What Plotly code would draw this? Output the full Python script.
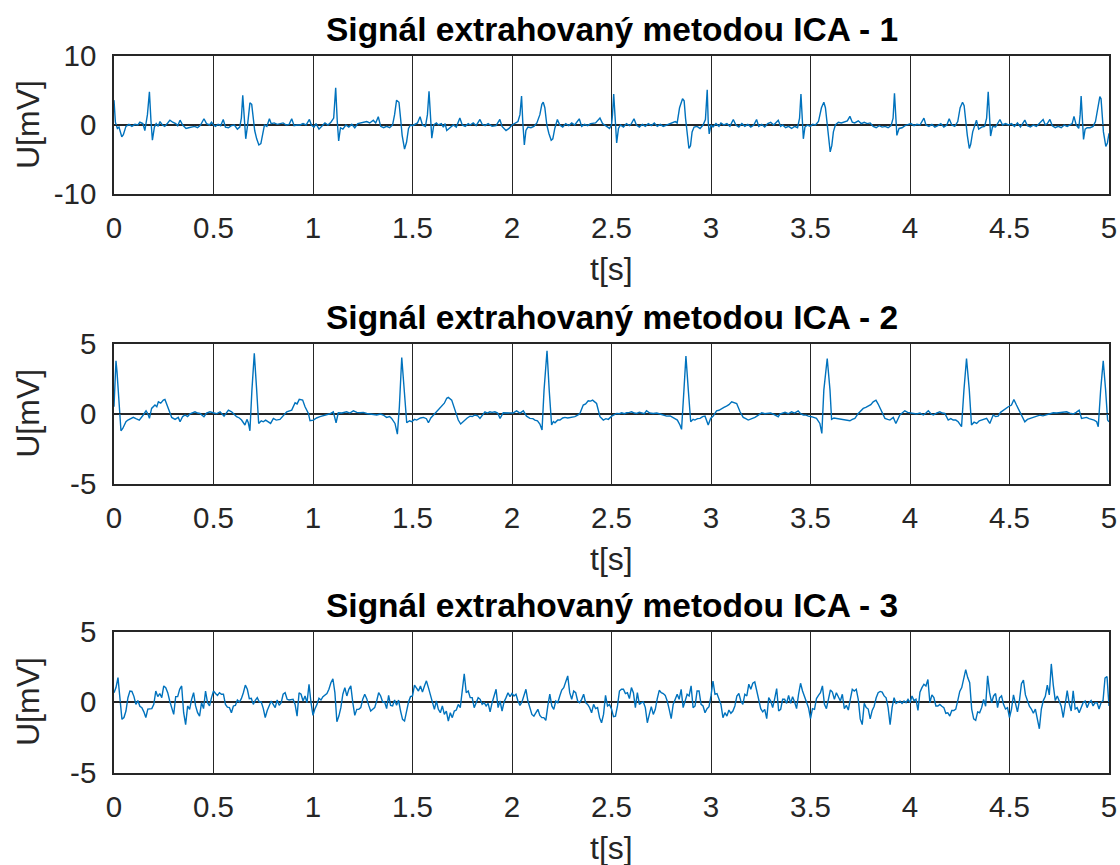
import plotly.graph_objects as go

# ---------------- data ----------------
# Panel 1: time [s] and voltage [mV]
t1 = [0.000, 0.007, 0.017, 0.025, 0.039, 0.047, 0.060, 0.075, 0.090, 0.105,
      0.120, 0.130, 0.145, 0.155, 0.168, 0.178, 0.186, 0.193, 0.203, 0.212,
      0.222, 0.231, 0.243, 0.255, 0.270, 0.281, 0.295, 0.310, 0.320, 0.332,
      0.345, 0.362, 0.375, 0.390, 0.405, 0.420, 0.435, 0.452, 0.465, 0.480,
      0.490, 0.500, 0.510, 0.523, 0.536, 0.549, 0.560, 0.575, 0.590, 0.605,
      0.620, 0.632, 0.640, 0.647, 0.655, 0.662, 0.670, 0.677, 0.683, 0.692,
      0.700, 0.707, 0.717, 0.728, 0.738, 0.748, 0.756, 0.768, 0.774, 0.781,
      0.790, 0.805, 0.820, 0.835, 0.850, 0.865, 0.880, 0.893, 0.905, 0.920,
      0.935, 0.950, 0.965, 0.982, 0.992, 1.005, 1.015, 1.030, 1.045, 1.060,
      1.075, 1.090, 1.104, 1.114, 1.122, 1.129, 1.138, 1.150, 1.165, 1.180,
      1.195, 1.210, 1.225, 1.240, 1.255, 1.270, 1.285, 1.303, 1.315, 1.328,
      1.340, 1.355, 1.370, 1.385, 1.400, 1.410, 1.420, 1.432, 1.440, 1.448,
      1.460, 1.470, 1.480, 1.490, 1.500, 1.515, 1.525, 1.538, 1.550, 1.565,
      1.575, 1.583, 1.590, 1.597, 1.607, 1.620, 1.630, 1.645, 1.655, 1.664,
      1.672, 1.690, 1.705, 1.720, 1.738, 1.750, 1.765, 1.780, 1.790, 1.805,
      1.820, 1.839, 1.850, 1.865, 1.880, 1.900, 1.920, 1.939, 1.950, 1.970,
      1.985, 2.000, 2.015, 2.030, 2.040, 2.048, 2.054, 2.062, 2.070, 2.080,
      2.095, 2.110, 2.125, 2.140, 2.150, 2.157, 2.165, 2.175, 2.185, 2.197,
      2.205, 2.215, 2.228, 2.240, 2.255, 2.270, 2.285, 2.300, 2.315, 2.338,
      2.350, 2.365, 2.380, 2.395, 2.420, 2.442, 2.455, 2.475, 2.490, 2.500,
      2.505, 2.511, 2.518, 2.526, 2.535, 2.545, 2.560, 2.575, 2.590, 2.600,
      2.613, 2.625, 2.640, 2.655, 2.670, 2.685, 2.700, 2.715, 2.730, 2.745,
      2.760, 2.780, 2.800, 2.820, 2.830, 2.842, 2.857, 2.865, 2.872, 2.880,
      2.889, 2.897, 2.905, 2.915, 2.930, 2.945, 2.960, 2.972, 2.981, 2.986,
      2.991, 3.000, 3.010, 3.025, 3.040, 3.050, 3.065, 3.080, 3.095, 3.112,
      3.125, 3.140, 3.155, 3.170, 3.185, 3.200, 3.215, 3.229, 3.240, 3.255,
      3.270, 3.285, 3.300, 3.315, 3.338, 3.350, 3.360, 3.375, 3.390, 3.405,
      3.420, 3.435, 3.445, 3.452, 3.458, 3.464, 3.472, 3.485, 3.500, 3.510,
      3.525, 3.540, 3.555, 3.567, 3.575, 3.583, 3.590, 3.599, 3.607, 3.615,
      3.625, 3.640, 3.655, 3.670, 3.685, 3.698, 3.710, 3.722, 3.740, 3.755,
      3.770, 3.785, 3.800, 3.815, 3.830, 3.845, 3.860, 3.875, 3.890, 3.905,
      3.915, 3.922, 3.928, 3.934, 3.945, 3.960, 3.975, 3.990, 4.005, 4.020,
      4.035, 4.050, 4.070, 4.080, 4.095, 4.110, 4.125, 4.140, 4.155, 4.170,
      4.185, 4.197, 4.210, 4.225, 4.240, 4.252, 4.264, 4.272, 4.280, 4.288,
      4.298, 4.305, 4.315, 4.334, 4.345, 4.360, 4.375, 4.385, 4.393, 4.399,
      4.405, 4.415, 4.430, 4.452, 4.465, 4.480, 4.495, 4.510, 4.525, 4.540,
      4.555, 4.577, 4.590, 4.605, 4.620, 4.635, 4.650, 4.669, 4.680, 4.690,
      4.703, 4.715, 4.730, 4.745, 4.760, 4.775, 4.790, 4.805, 4.815, 4.824,
      4.835, 4.848, 4.855, 4.860, 4.866, 4.872, 4.880, 4.890, 4.905, 4.920,
      4.932, 4.943, 4.954, 4.960, 4.966, 4.972, 4.984, 4.992, 5.000]
u1 = [3.6, 0.4, -0.5, -0.3, -1.7, -1.4, -0.2, 0.1, -0.2, 0.1,
      0.0, 0.4, 0.2, -0.8, 1.5, 4.8, 0.5, -2.2, -0.3, 0.2,
      -0.2, 0.5, 0.0, -0.2, 0.3, 0.7, 0.4, 0.2, -0.1, 0.7,
      0.0, -0.5, -0.4, -0.3, -0.2, -0.4, 0.0, 0.9, 0.2, 0.0,
      0.4, 0.0, -0.2, 0.1, -0.1, 0.8, -0.3, -0.4, -0.1, 0.0,
      -0.6, -0.3, 1.0, 4.3, 0.5, -2.0, -0.3, 2.0, 3.2, 3.0,
      1.0, -0.8, -2.0, -2.9, -2.7, -0.8, 0.0, -0.2, 0.3, 0.9,
      0.2, 0.3, 0.1, 0.2, 0.3, 0.0, 0.1, 0.9, -0.1, 0.0,
      0.0, 0.2, 0.0, 0.8, 0.0, -0.3, 0.2, -0.6, -0.2, 0.3,
      0.0, 0.4, 1.0, 5.4, 0.5, -2.3, -0.4, -0.6, 0.0, -0.3,
      0.1, -0.4, 0.2, 0.3, 0.4, 0.5, 0.3, 0.7, 0.3, 1.2,
      -0.2, -0.4, -0.2, -0.4, 0.0, 1.5, 3.6, 3.3, 1.0, -1.5,
      -3.5, -2.5, -0.5, 0.0, -0.1, 0.1, 0.3, 1.2, 0.0, -0.2,
      1.5, 4.9, 0.5, -1.9, 0.0, 0.3, 0.0, 0.2, -0.3, 0.2,
      -0.8, -0.4, 0.0, -0.3, 1.0, 0.0, -0.2, 0.2, 0.0, 0.3,
      -0.1, 0.8, 0.1, -0.1, 0.2, -0.2, -0.1, 0.8, -0.2, -0.8,
      -0.5, 0.0, 0.2, 0.5, 1.5, 4.2, 0.5, -2.9, -0.8, -0.3,
      -0.4, -0.2, 0.3, 1.5, 3.0, 3.3, 2.5, 0.0, -1.2, -2.2,
      -2.0, -0.5, 0.8, 0.0, -0.3, 0.2, -0.1, 0.3, 0.0, 0.9,
      -0.2, 0.1, -0.1, 0.2, 0.3, 1.0, 0.2, -0.2, -0.5, 0.0,
      1.5, 4.5, 0.5, -2.6, -0.5, 0.0, -0.3, 0.2, -0.1, 0.2,
      0.9, 0.0, -0.3, 0.1, -0.2, 0.2, -0.1, 0.3, -0.2, 0.1,
      -0.2, 0.0, 0.2, 0.5, 0.3, 2.5, 3.8, 3.5, 1.0, -1.0,
      -3.4, -3.0, -1.0, -0.3, -0.2, -0.5, 0.0, 0.8, 5.1, 0.5,
      -1.3, 0.0, -0.3, 0.2, -0.2, 0.3, 0.0, 0.2, -0.2, 0.8,
      0.0, -0.3, 0.2, -0.2, 0.1, -0.3, 0.0, 0.8, -0.2, 0.1,
      -0.3, 0.2, 0.4, 0.0, 0.7, -0.2, 0.0, -0.4, -0.2, -0.5,
      -0.2, -0.4, 1.0, 4.5, 0.5, -2.0, -0.3, 0.0, -0.2, 0.1,
      0.0, 0.5, 2.5, 3.3, 2.5, 0.0, -2.0, -3.9, -3.0, -1.0,
      0.0, 0.4, 0.3, 0.5, 0.6, 1.25, 0.4, 0.3, 0.6, 0.2,
      0.4, 0.2, 0.3, -0.2, -0.4, -0.1, -0.3, -0.2, -0.4, -0.1,
      1.0, 4.6, 0.5, -1.5, -0.5, -0.4, -0.1, 0.0, 0.2, -0.1,
      0.1, 0.0, 1.0, 0.0, -0.2, 0.1, -0.3, -0.1, 0.2, -0.3,
      0.0, 0.9, 0.0, -0.2, 0.5, 2.5, 3.3, 2.8, 0.5, -1.5,
      -3.4, -2.8, -1.0, 0.7, -0.6, -0.3, -0.2, 1.0, 4.8, 0.5,
      -1.6, -0.2, -0.3, 0.8, 0.0, 0.2, 0.0, 0.2, -0.2, 0.3,
      -0.3, 0.7, -0.1, -0.3, 0.0, -0.2, 0.3, 0.8, 0.0, 0.2,
      0.8, -0.1, -0.4, -0.2, -0.4, 0.0, -0.2, 0.0, 0.2, 1.25,
      0.0, -0.5, 1.5, 4.2, 0.5, -2.1, -0.6, -0.4, -0.4, -0.2,
      0.5, 2.5, 4.1, 3.8, 1.0, -1.0, -3.1, -2.6, -1.2]

# Panel 2: time [s] and voltage [mV]
t2 = [0.000, 0.010, 0.015, 0.027, 0.035, 0.044, 0.060, 0.070, 0.080, 0.090,
      0.097, 0.110, 0.127, 0.147, 0.161, 0.170, 0.178, 0.189, 0.206, 0.215,
      0.223, 0.235, 0.248, 0.256, 0.273, 0.290, 0.307, 0.323, 0.332, 0.345,
      0.357, 0.370, 0.382, 0.395, 0.407, 0.420, 0.432, 0.452, 0.465, 0.482,
      0.499, 0.515, 0.533, 0.553, 0.575, 0.591, 0.605, 0.616, 0.630, 0.641,
      0.658, 0.668, 0.675, 0.683, 0.693, 0.705, 0.717, 0.727, 0.740, 0.750,
      0.762, 0.775, 0.787, 0.801, 0.815, 0.834, 0.850, 0.868, 0.893, 0.910,
      0.920, 0.931, 0.948, 0.960, 0.977, 0.985, 1.002, 1.018, 1.035, 1.050,
      1.069, 1.085, 1.102, 1.116, 1.127, 1.145, 1.169, 1.185, 1.203, 1.220,
      1.236, 1.253, 1.270, 1.295, 1.320, 1.340, 1.353, 1.370, 1.385, 1.395,
      1.412, 1.424, 1.434, 1.446, 1.457, 1.471, 1.485, 1.496, 1.510, 1.521,
      1.540, 1.555, 1.570, 1.580, 1.592, 1.605, 1.618, 1.630, 1.645, 1.660,
      1.672, 1.680, 1.697, 1.713, 1.730, 1.742, 1.755, 1.764, 1.775, 1.789,
      1.800, 1.814, 1.828, 1.839, 1.850, 1.864, 1.876, 1.889, 1.900, 1.914,
      1.928, 1.940, 1.956, 1.975, 1.990, 2.005, 2.023, 2.040, 2.057, 2.073,
      2.090, 2.105, 2.115, 2.128, 2.140, 2.151, 2.161, 2.176, 2.187, 2.199,
      2.208, 2.216, 2.230, 2.241, 2.255, 2.266, 2.280, 2.291, 2.305, 2.316,
      2.330, 2.341, 2.358, 2.370, 2.383, 2.395, 2.405, 2.425, 2.442, 2.459,
      2.472, 2.484, 2.501, 2.515, 2.526, 2.540, 2.551, 2.565, 2.576, 2.590,
      2.601, 2.615, 2.626, 2.640, 2.651, 2.665, 2.676, 2.692, 2.710, 2.727,
      2.744, 2.760, 2.777, 2.795, 2.811, 2.831, 2.844, 2.852, 2.864, 2.874,
      2.886, 2.898, 2.910, 2.919, 2.932, 2.945, 2.958, 2.970, 2.986, 2.998,
      3.011, 3.028, 3.040, 3.053, 3.065, 3.078, 3.090, 3.104, 3.115, 3.129,
      3.146, 3.162, 3.175, 3.187, 3.205, 3.221, 3.238, 3.255, 3.270, 3.288,
      3.300, 3.313, 3.321, 3.338, 3.346, 3.360, 3.372, 3.388, 3.405, 3.420,
      3.438, 3.450, 3.464, 3.478, 3.489, 3.505, 3.518, 3.530, 3.547, 3.557,
      3.567, 3.584, 3.598, 3.606, 3.618, 3.631, 3.648, 3.665, 3.680, 3.698,
      3.710, 3.723, 3.740, 3.752, 3.765, 3.778, 3.790, 3.803, 3.815, 3.829,
      3.840, 3.857, 3.874, 3.888, 3.899, 3.916, 3.929, 3.949, 3.962, 3.974,
      3.988, 3.999, 4.015, 4.033, 4.050, 4.067, 4.080, 4.092, 4.105, 4.117,
      4.133, 4.150, 4.162, 4.175, 4.192, 4.205, 4.217, 4.230, 4.242, 4.259,
      4.271, 4.284, 4.298, 4.309, 4.322, 4.335, 4.348, 4.360, 4.372, 4.385,
      4.401, 4.418, 4.430, 4.443, 4.455, 4.469, 4.482, 4.494, 4.510, 4.522,
      4.535, 4.552, 4.565, 4.577, 4.590, 4.603, 4.620, 4.636, 4.652, 4.668,
      4.686, 4.703, 4.720, 4.737, 4.753, 4.770, 4.787, 4.803, 4.820, 4.835,
      4.850, 4.862, 4.875, 4.887, 4.900, 4.912, 4.925, 4.938, 4.946, 4.958,
      4.971, 4.983, 4.993, 5.000]
u2 = [0.5, 3.77, 3.0, 0.0, -1.21, -1.05, -0.57, -0.45, -0.4, -0.3,
      -0.26, -0.35, -0.45, -0.09, 0.21, 0.0, -0.33, 0.38, 0.62, 0.5,
      0.85, 0.75, 0.97, 1.02, 0.38, -0.26, -0.4, -0.26, -0.57, -0.2,
      -0.09, -0.2, 0.0, 0.1, 0.14, 0.05, 0.02, -0.21, 0.05, 0.14,
      0.07, 0.0, 0.14, -0.17, 0.26, 0.14, -0.05, -0.21, -0.3, -0.45,
      -0.8, -0.4, -0.64, -1.21, 1.68, 4.3, 1.68, -0.69, -0.5, -0.57,
      -0.45, -0.57, -0.69, -0.33, -0.45, -0.4, -0.15, 0.14, 0.26, 0.78,
      0.7, 1.02, 0.97, 0.5, 0.02, -0.5, -0.45, -0.3, -0.21, -0.15,
      -0.09, 0.0, 0.14, -0.64, 0.07, 0.05, 0.14, 0.05, 0.21, 0.1,
      0.07, 0.1, 0.02, -0.05, -0.09, -0.02, -0.09, -0.26, -0.2, -0.33,
      -0.69, -1.45, 0.5, 4.0, 1.68, -0.64, -0.5, -0.57, -0.4, -0.45,
      -0.3, -0.26, -0.35, -0.64, -0.3, -0.09, 0.1, 0.26, 0.5, 0.75,
      1.1, 1.16, 0.97, 0.26, -0.45, -0.73, -0.55, -0.45, -0.3, -0.17,
      -0.2, -0.09, -0.15, -0.33, -0.1, 0.14, 0.05, 0.14, 0.1, 0.14,
      0.05, -0.33, 0.07, 0.05, 0.07, 0.05, 0.21, 0.05, 0.21, -0.17,
      -0.33, -0.35, -0.45, -0.5, -0.73, -1.16, 1.68, 4.48, 1.68, -0.8,
      -0.55, -0.64, -0.45, -0.45, -0.3, -0.26, -0.3, -0.26, -0.25, -0.21,
      -0.1, 0.02, 0.62, 0.7, 0.92, 0.9, 0.97, 0.73, -0.21, -0.45,
      -0.35, -0.4, -0.17, -0.05, 0.02, 0.0, 0.07, 0.0, 0.07, 0.1,
      0.14, 0.05, 0.02, 0.1, 0.07, 0.0, 0.21, 0.05, 0.02, 0.05,
      -0.02, -0.1, -0.17, -0.15, -0.26, -0.45, -0.8, -1.11, 1.68, 4.1,
      1.68, -0.57, -0.4, -0.45, -0.35, -0.33, -0.2, -0.17, -0.8, -0.33,
      -0.17, 0.21, 0.25, 0.38, 0.45, 0.55, 0.65, 0.85, 0.8, 0.73,
      0.14, -0.26, -0.35, -0.45, -0.35, -0.26, -0.1, 0.07, 0.0, 0.02,
      0.05, -0.02, -0.09, -0.21, -0.02, 0.05, 0.1, 0.0, 0.14, 0.05,
      0.21, 0.0, -0.09, -0.1, -0.17, -0.21, -0.25, -0.33, -0.69, -1.4,
      1.68, 3.93, 1.68, -0.4, -0.3, -0.33, -0.35, -0.4, -0.45, -0.5,
      -0.4, -0.33, 0.02, 0.2, 0.38, 0.45, 0.55, 0.65, 0.85, 0.97,
      0.69, 0.14, -0.33, -0.4, -0.45, -0.26, -0.69, -0.09, 0.1, 0.21,
      0.1, 0.07, 0.0, -0.02, 0.05, -0.09, 0.05, 0.21, 0.0, -0.09,
      0.05, 0.14, 0.05, 0.02, -0.45, -0.35, -0.45, -0.45, -0.57, -0.92,
      1.68, 3.93, 1.68, -0.8, -0.6, -0.69, -0.5, -0.45, -0.4, -0.33,
      -0.69, -0.09, -0.2, -0.17, 0.1, 0.26, 0.35, 0.5, 0.62, 1.02,
      0.62, 0.14, -0.2, -0.57, -0.4, -0.33, -0.25, -0.17, -0.1, -0.15,
      -0.09, 0.0, 0.07, 0.05, 0.07, 0.1, 0.14, 0.05, -0.02, 0.1,
      0.26, -0.33, -0.3, -0.26, -0.35, -0.4, -0.45, -0.57, -0.92, 1.68,
      3.77, 1.68, -0.45, -0.57]

# Panel 3: voltage [mV] sampled every 0.01 s
dt3 = 0.01
u3 = [0.66, 1.02, 1.73, 0.1, -1.23, -1.1, -0.64, 0.3, 0.78, 0.75,
      0.4, -0.17, 0.1, -0.3, -0.4, -0.7, -1.1, -0.5, -0.5, -0.47,
      -0.17, 0.78, 0.38, 0.6, 0.31, 1.14, 1.02, 0.66, 0.07, -0.4,
      -0.88, 0.38, 0.38, 0.9, 1.14, -0.76, -1.6, -0.28, -0.52, 0.19,
      0.66, -0.28, -0.76, -1.0, -0.05, -0.47, 0.78, -0.05, -0.28, 0.31,
      0.78, 0.6, 0.47, 0.66, 0.55, 0.55, -0.17, -0.36, -0.4, -0.76,
      -0.28, -0.24, 0.14, 0.0, 0.24, 0.66, 1.2, 0.9, 0.24, 0.26,
      -0.17, 0.12, 0.31, 0.0, 0.0, -0.45, -1.1, -0.6, -0.24, 0.07,
      -0.17, -0.4, 0.14, -0.24, -0.05, 0.55, 0.66, 0.19, 0.14, 0.19,
      0.19, -0.17, -1.0, 0.66, 0.55, 0.07, 0.43, -0.05, 1.26, -0.05,
      -0.95, -0.47, -0.17, 0.26, 0.14, 0.38, 0.47, 0.6, 0.9, 1.37,
      1.65, 0.66, -1.4, -1.0, -0.4, 0.55, 1.02, 0.43, 0.9, 1.14,
      -0.05, -0.95, -0.52, -0.52, -0.4, 0.2, 0.55, 0.24, -0.24, -0.64,
      -0.52, -0.4, 0.07, 0.66, 0.43, 0.0, 0.0, -0.47, 0.47, -0.24,
      -0.28, 0.14, -0.24, 0.14, -0.64, -1.23, -1.35, -0.52, 0.0, 0.38,
      0.43, 1.2, 1.02, 0.78, 1.14, 0.7, 1.14, 1.5, 1.02, 0.47,
      0.12, -0.52, 0.07, -0.52, -0.76, -0.28, -0.88, -0.64, -1.35, -0.76,
      -1.11, -0.64, -0.57, -0.17, -0.4, 0.66, 2.0, 0.66, 0.78, 0.31,
      0.31, -0.4, -0.05, 0.31, 0.19, -0.17, -0.05, -0.28, -0.1, -0.7,
      -0.05, 0.38, 0.9, -0.4, 0.07, -0.64, 0.0, 0.31, 0.66, 0.38,
      0.6, 0.43, 0.55, 0.07, -0.24, 0.0, 0.38, 0.9, 0.07, -0.4,
      -0.88, -1.0, -0.76, -0.52, -0.95, -1.11, -1.11, -1.3, -0.28, 0.55,
      -0.28, -0.52, 0.07, -0.05, 0.43, 0.85, 1.02, 1.37, 1.85, 0.66,
      0.19, 0.78, 0.66, 0.07, -0.05, 0.19, 0.55, -0.05, -0.17, -0.4,
      -0.76, -0.17, -0.47, -0.4, -1.11, -1.47, -0.88, 0.47, -0.28, -0.17,
      -0.5, -1.04, -1.0, -0.28, 0.78, 0.9, 0.9, 0.6, 0.66, 0.24,
      1.02, 0.66, -0.4, 0.66, -0.17, -0.05, 0.0, -0.4, -1.47, -0.88,
      -0.33, -0.88, -0.52, 0.24, 0.83, 0.66, 0.6, 0.47, 0.07, -0.52,
      -1.18, -0.17, 0.19, 0.55, 0.19, 0.9, -0.4, 0.0, 0.55, 0.43,
      1.14, -0.4, -0.28, 0.78, 0.78, -0.17, -0.28, -0.76, -0.47, -0.33,
      0.43, 1.49, 0.55, 0.6, 0.24, -0.17, -1.11, -0.76, -1.0, -0.57,
      -0.8, -0.64, -0.28, 0.43, 0.6, 0.07, -0.17, 0.55, 0.43, 1.26,
      0.9, 1.33, 1.42, 0.78, 0.07, -0.47, -0.7, -0.52, -1.18, 0.31,
      0.07, -0.4, 0.24, 0.95, -0.64, -0.52, 0.19, 0.19, -0.1, 0.47,
      -0.1, 0.38, 0.0, -0.47, 0.55, 1.33, 0.78, 0.38, -0.1, -0.4,
      -1.18, -0.47, -0.52, 0.24, 0.47, 0.66, 1.14, -0.17, -0.47, 0.31,
      0.85, 0.7, 0.19, 0.66, 0.38, 0.07, 0.55, -0.47, -0.24, -0.57,
      0.19, 0.9, 0.78, 0.9, 0.19, -1.2, -1.6, -0.1, -0.4, -0.5,
      -1.2, -0.6, -0.3, 0.3, 0.66, 0.75, 0.7, 0.43, 0.3, -0.4,
      -1.6, -0.4, 0.31, -0.1, 0.0, 0.07, -0.1, 0.07, -0.05, 0.19,
      -0.05, 0.43, 0.1, 0.2, -0.6, 0.7, 1.02, 1.26, 1.14, 1.6,
      -0.05, 0.5, 0.31, -0.28, -0.28, -0.17, -0.3, -0.4, -0.8, -0.76,
      -1.0, -0.6, -0.6, -0.5, 0.1, 0.75, 1.02, 1.61, 2.3, 1.73,
      1.37, -0.5, -1.2, -1.3, -0.7, -0.76, -0.4, 0.19, -0.3, 1.85,
      0.66, -0.05, 0.43, 0.6, -0.4, 0.3, 0.43, -0.17, -0.5, -0.4,
      -1.1, -0.5, 0.5, -0.1, -0.7, 0.1, 1.3, 1.55, 0.5, 0.1,
      -0.3, -0.5, -0.8, -0.5, -1.3, -1.9, -0.5, 0.1, 0.4, 1.2,
      0.5, 2.7, 1.2, 0.1, 0.43, 0.07, -0.3, -1.1, -0.1, 0.8,
      -0.1, -0.64, 0.8, -0.5, -0.4, -0.76, -0.4, -0.05, 0.07, -0.4,
      -0.05, 0.1, -0.28, -0.05, -0.05, -0.5, -0.05, 0.1, 1.7, 1.8,
      -0.28]
t3 = [round(i * dt3, 2) for i in range(len(u3))]

titles = ["Signál extrahovaný metodou ICA - 1",
          "Signál extrahovaný metodou ICA - 2",
          "Signál extrahovaný metodou ICA - 3"]
x_label = "t[s]"
y_label = "U[mV]"
x_ticks = [0, 0.5, 1, 1.5, 2, 2.5, 3, 3.5, 4, 4.5, 5]
x_ticktext = ["0", "0.5", "1", "1.5", "2", "2.5", "3", "3.5", "4", "4.5", "5"]
y_ranges = [[-10, 10], [-5, 5], [-5, 5]]
y_ticks = [[-10, 0, 10], [-5, 0, 5], [-5, 0, 5]]
y_ticktext = [["-10", "0", "10"], ["-5", "0", "5"], ["-5", "0", "5"]]

# ---------------- layout geometry (page pixels; body margin removed) ----------------
W, H = 1120, 865
LEFT, RIGHT = 114, 1109
boxes = [(56, 194), (343.5, 484), (631.5, 772.5)]   # (top, bottom) of each plot box

def fx(px):
    return px / W

def fy(py):
    return 1 - py / H

FONT = "Liberation Sans, Arial, Helvetica, sans-serif"
AX = "#262626"
LINE = "#0072BD"

fig = go.Figure()
series = [(t1, u1), (t2, u2), (t3, u3)]
for i, (tt, uu) in enumerate(series):
    sfx = "" if i == 0 else str(i + 1)
    fig.add_trace(go.Scatter(x=tt, y=uu, mode="lines",
                             line=dict(color=LINE, width=1.4),
                             xaxis="x" + sfx, yaxis="y" + sfx,
                             showlegend=False, hoverinfo="skip"))

annotations = []
for i in range(3):
    top, bot = boxes[i]
    sfx = "" if i == 0 else str(i + 1)
    xa = dict(domain=[fx(LEFT), fx(RIGHT)], range=[0, 5],
              anchor="y" + sfx, automargin=False,
              tickmode="array", tickvals=x_ticks, ticktext=x_ticktext,
              showgrid=True, gridcolor=AX, gridwidth=1,
              zeroline=False,
              showline=True, mirror="ticks", linecolor=AX, linewidth=1.5,
              ticks="inside", ticklen=8, tickcolor=AX, tickwidth=1,
              tickfont=dict(family=FONT, size=29.5, color=AX),
              ticklabelstandoff=7, fixedrange=True)
    ya = dict(domain=[fy(bot), fy(top)], range=y_ranges[i],
              anchor="x" + sfx, automargin=False,
              tickmode="array", tickvals=y_ticks[i], ticktext=y_ticktext[i],
              showgrid=False,
              zeroline=True, zerolinecolor=AX, zerolinewidth=1.5,
              showline=True, mirror="ticks", linecolor=AX, linewidth=1.5,
              ticks="inside", ticklen=8, tickcolor=AX, tickwidth=1,
              tickfont=dict(family=FONT, size=29.5, color=AX),
              ticklabelstandoff=10, fixedrange=True)
    fig.update_layout(**{"xaxis" + sfx: xa, "yaxis" + sfx: ya})

    annotations.append(dict(text="<b>" + titles[i] + "</b>", xref="paper", yref="paper",
                            x=fx((LEFT + RIGHT) / 2), y=fy(top - 26),
                            xanchor="center", yanchor="middle", showarrow=False,
                            font=dict(family=FONT, size=33.5, color="#000000")))
    annotations.append(dict(text=x_label, xref="paper", yref="paper",
                            x=fx((LEFT + RIGHT) / 2), y=fy(bot + 75),
                            xanchor="center", yanchor="middle", showarrow=False,
                            font=dict(family=FONT, size=32, color=AX)))
    annotations.append(dict(text=y_label, xref="paper", yref="paper",
                            x=fx(28), y=fy((top + bot) / 2), textangle=-90,
                            xanchor="center", yanchor="middle", showarrow=False,
                            font=dict(family=FONT, size=32, color=AX)))

fig.update_layout(width=W, height=H, margin=dict(l=0, r=0, t=0, b=0),
                  paper_bgcolor="white", plot_bgcolor="white",
                  annotations=annotations, showlegend=False)

fig.write_html("out.html", config={"displayModeBar": False},
               post_script="document.body.style.margin='0';"
                           "document.body.style.overflow='hidden';")
